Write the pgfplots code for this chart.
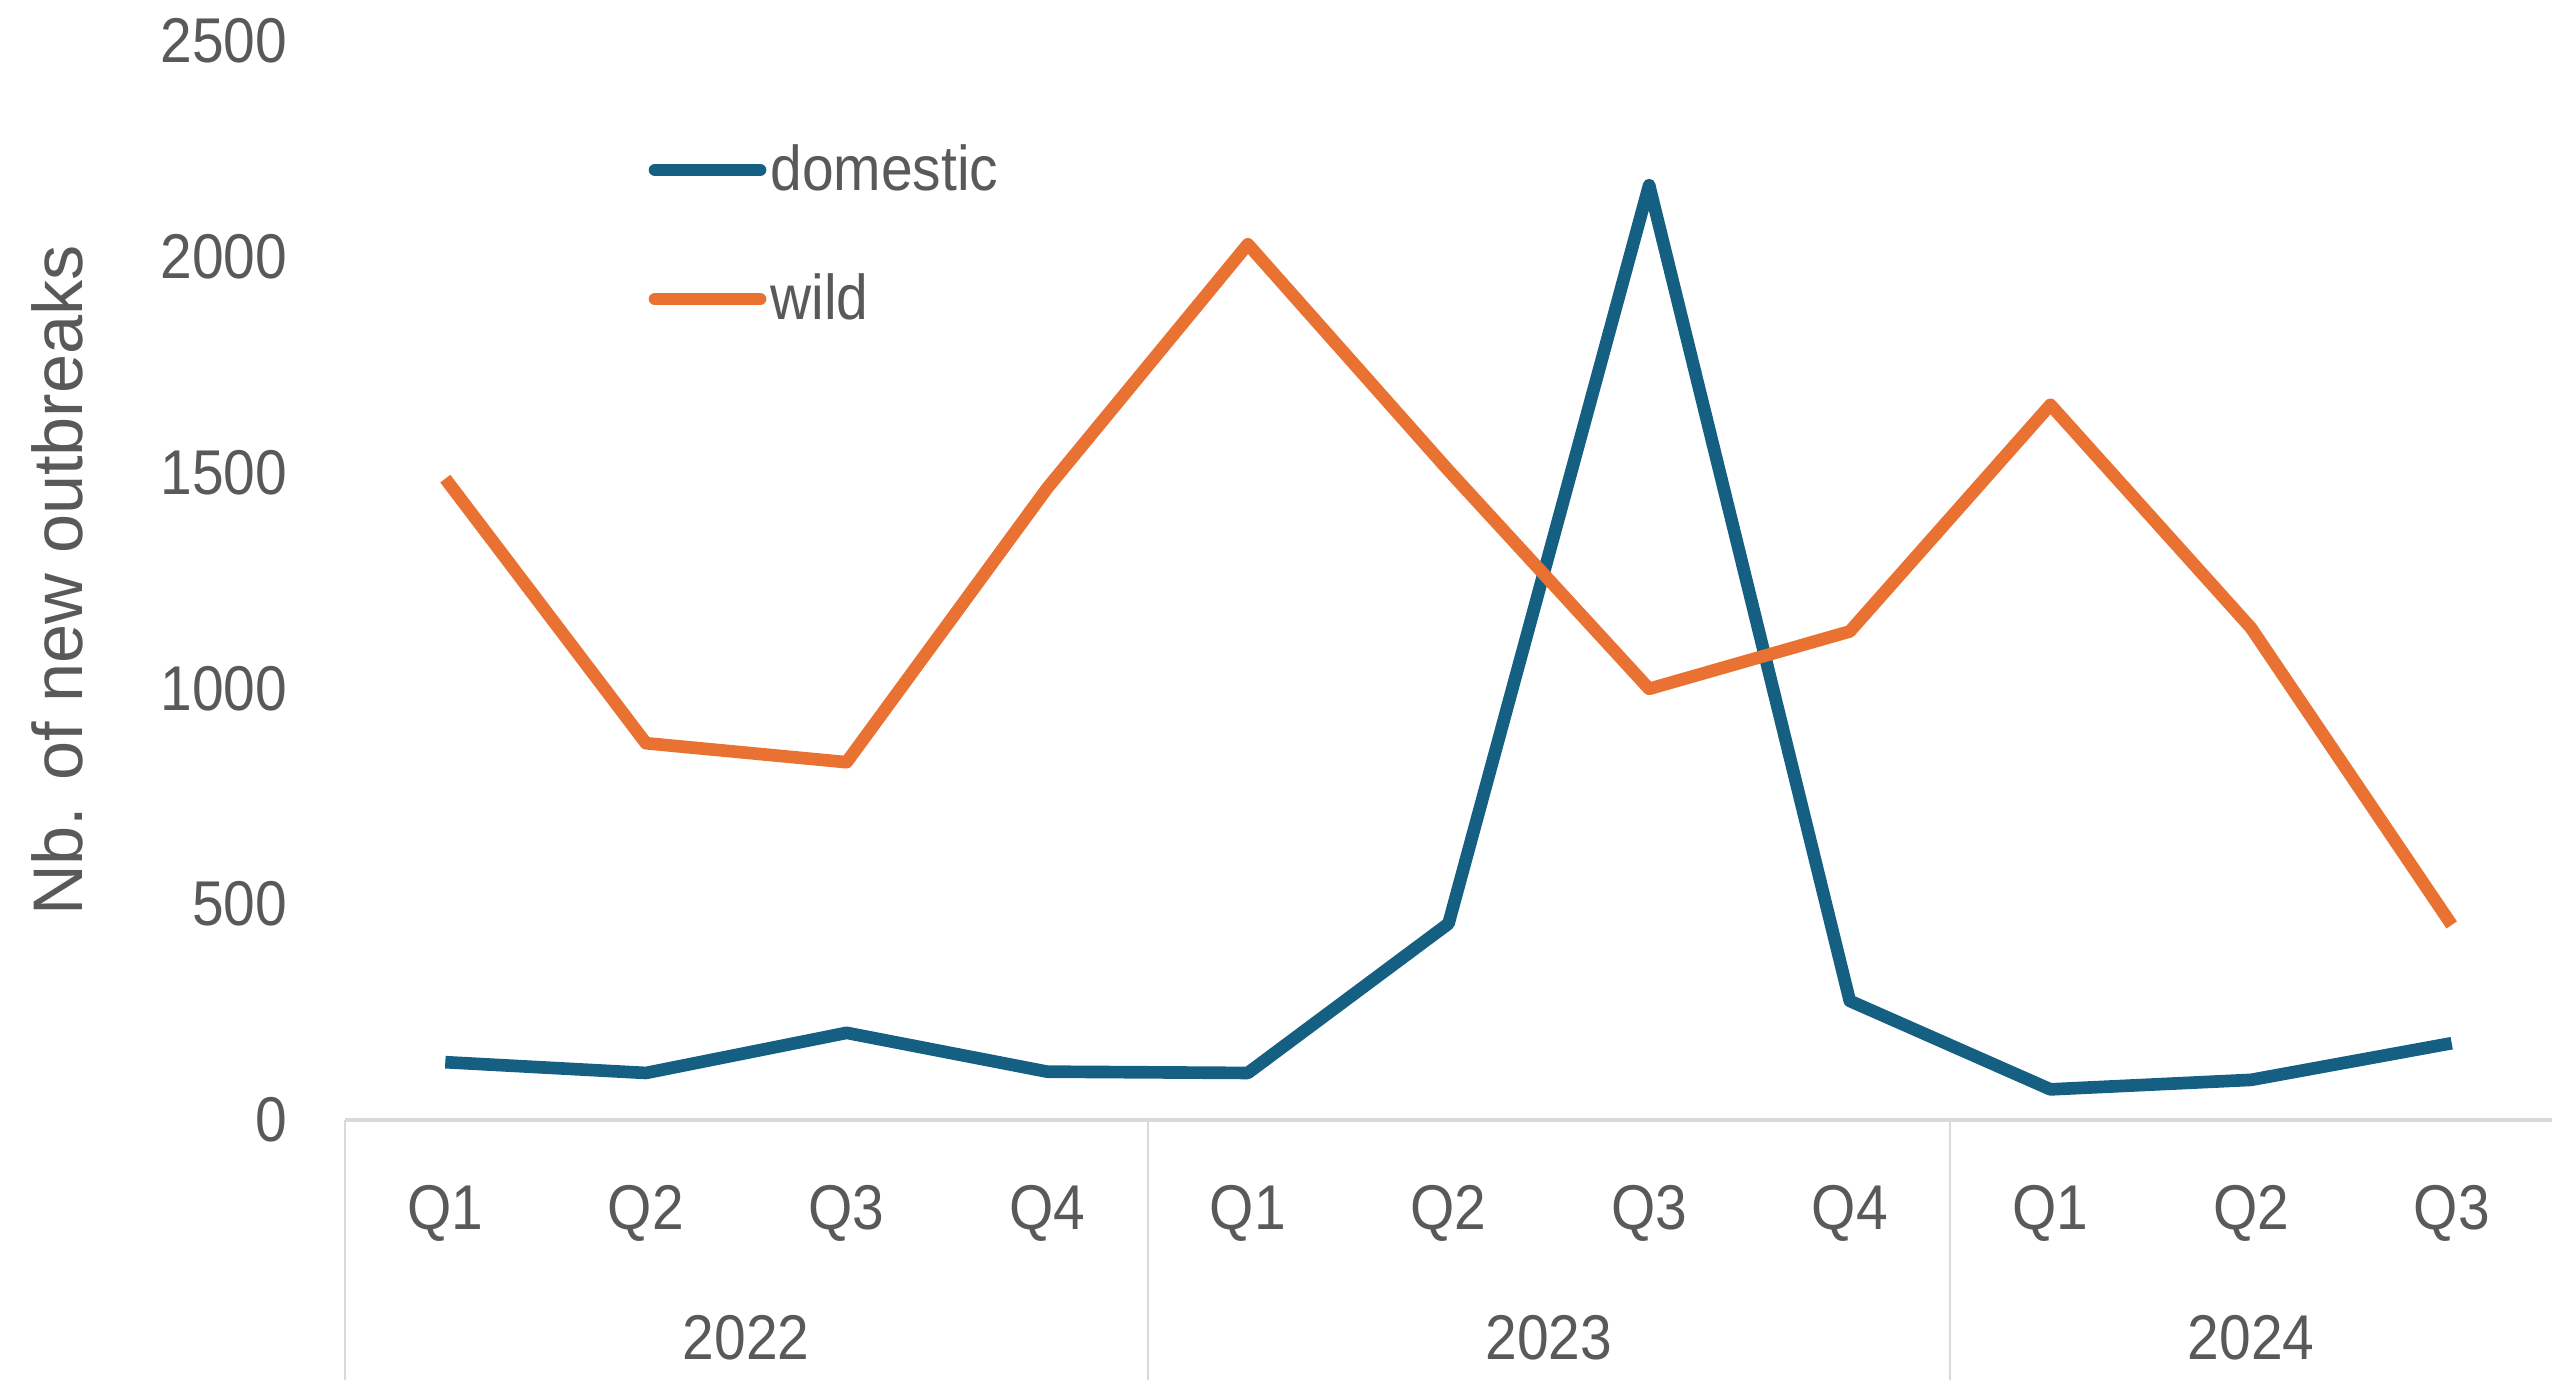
\documentclass[border=0pt]{standalone}
\usepackage{fontspec}
\setmainfont{Liberation Sans}
\newfontfamily\narrowfont[FakeStretch=0.9]{Liberation Sans}
\usepackage{pgfplots}
\pgfplotsset{compat=1.18}
\definecolor{dom}{HTML}{156082}
\definecolor{wild}{HTML}{E97132}
\definecolor{txt}{HTML}{595959}
\definecolor{axl}{HTML}{D9D9D9}
\begin{document}
\begin{tikzpicture}
\begin{axis}[
  at={(3.45cm,2.59cm)}, anchor=south west,
  scale only axis,
  width=22.07cm, height=10.79cm,
  xmin=-0.5, xmax=10.5,
  ymin=0, ymax=2500,
  ytick={0,500,1000,1500,2000,2500},
  xtick={0,1,2,3,4,5,6,7,8,9,10},
  xticklabels={Q1,Q2,Q3,Q4,Q1,Q2,Q3,Q4,Q1,Q2,Q3},
  axis x line*=bottom, axis y line*=left,
  y axis line style={draw=none},
  x axis line style={draw=axl, line width=0.9pt, -},
  major tick length=0pt,
  /pgf/number format/assume math mode=true,
  /pgf/number format/1000 sep={},
  ticklabel style={font=\narrowfont\fontsize{18}{18}\selectfont, text=txt},
  yticklabel style={inner sep=0pt, xshift=-5.7mm},
  xticklabel style={inner sep=0pt, yshift=-6.5mm},
  ylabel={Nb. of new outbreaks},
  ylabel style={font=\fontsize{20}{20}\selectfont, text=txt, at={(axis description cs:-0.1305,0.5)}, anchor=center, rotate=0},
  clip=false,
  legend cell align=left,
  legend style={draw=none, fill=none, at={(0.1373,0.9085)}, anchor=north west, inner sep=0pt,
    row sep=7mm, font=\narrowfont\fontsize{18}{18}\selectfont, text=txt,
    nodes={inner sep=0.4mm}},
  legend image code/.code={\draw[#1, line cap=round] (0cm,0cm) -- (1.05cm,0cm);},
]
\addplot[dom, line width=3.6pt, line join=round] coordinates {
 (0,134) (1,109) (2,202) (3,112) (4,109) (5,455) (6,2166) (7,276) (8,71) (9,93) (10,178)};
\addlegendentry{domestic}
\addplot[wild, line width=3.6pt, line join=round] coordinates {
 (0,1486) (1,873) (2,829) (3,1464) (4,2029) (5,1505) (6,999) (7,1132) (8,1657) (9,1140) (10,452)};
\addlegendentry{wild}
\draw[axl, line width=0.6pt] (axis cs:-0.5,0) -- ++(0pt,-2.6cm);
\draw[axl, line width=0.6pt] (axis cs:3.5,0) -- ++(0pt,-2.6cm);
\draw[axl, line width=0.6pt] (axis cs:7.5,0) -- ++(0pt,-2.6cm);
\node[font=\narrowfont\fontsize{18}{18}\selectfont, text=txt] at ([yshift=-2.18cm]axis cs:1.5,0) {2022};
\node[font=\narrowfont\fontsize{18}{18}\selectfont, text=txt] at ([yshift=-2.18cm]axis cs:5.5,0) {2023};
\node[font=\narrowfont\fontsize{18}{18}\selectfont, text=txt] at ([yshift=-2.18cm]axis cs:9,0) {2024};
\end{axis}
\pgfresetboundingbox
\path[use as bounding box] (0,0) rectangle (25.52cm,13.79cm);
\end{tikzpicture}
\end{document}
